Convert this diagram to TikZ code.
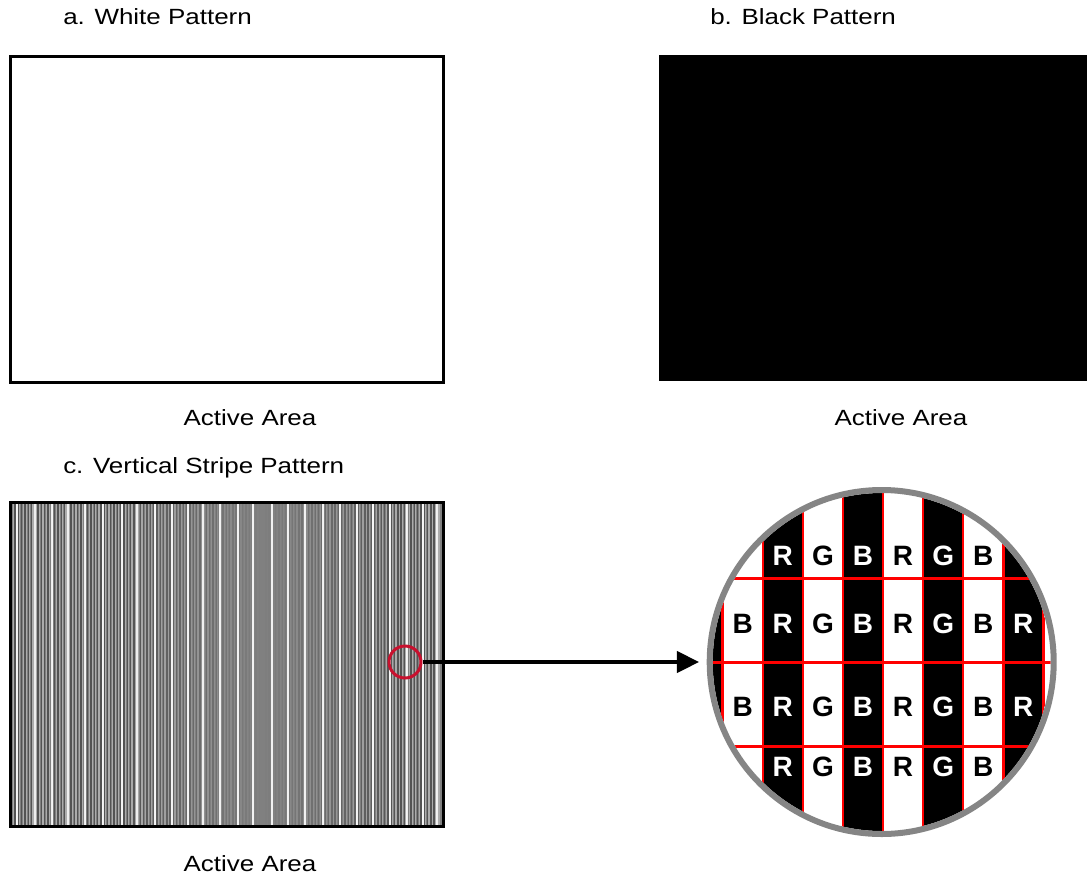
\documentclass[tikz,border=0pt]{standalone}
\usepackage{fontspec}
\usepackage{graphicx}
\usepackage{xcolor}
\usepackage{tikz}
\setmainfont{Liberation Sans}
\usetikzlibrary{arrows.meta}
\definecolor{spotred}{RGB}{200,16,46}
\definecolor{ringgray}{gray}{0.52}
\definecolor{stripegray}{gray}{0.5}
\newcommand{\wide}[1]{\scalebox{1.18}[1]{#1}}
\tikzset{
    caption/.style = {anchor=base west, inner sep=0pt, font=\fontsize{16.5}{20}\selectfont},
    areatext/.style = {anchor=base, inner sep=0pt, font=\fontsize{16.5}{20}\selectfont},
    panel/.style = {draw=black, line width=2.25pt},
    subpixel/.style = {inner sep=0pt, font=\fontsize{21}{24}\selectfont\bfseries},
    onblack/.style = {subpixel, text=white},
    onwhite/.style = {subpixel, text=black},
    gridline/.style = {red, line width=1.9pt},
    arrow/.style = {line width=2.4pt, -{Triangle[length=16.5pt, width=16pt]}, shorten >=5.8pt}
}

\begin{document}
\begin{tikzpicture}[x=0.75pt, y=-0.75pt]
\useasboundingbox (0,0) rectangle (1087,874);

\node (capa) [caption] at (63,25) {\wide{a. White Pattern}};
\node (capb) [caption] at (710,25) {\wide{b. Black Pattern}};
\draw [panel, fill=white] (10,57) rectangle (443,382);
\fill [black] (659,55) rectangle (1087,381);
\node (areaa) [areatext] at (250,425) {\wide{Active Area}};
\node (areab) [areatext] at (901,425) {\wide{Active Area}};

\node (capc) [caption] at (63,473) {\wide{c. Vertical Stripe Pattern}};
\fill [stripegray] (10,502) rectangle (443,826);
\foreach \x in {11,14.3,...,440} {
    \pgfmathsetmacro\depth{0.35*min(1,abs(\x-262)/140)}
    \fill [black, opacity=\depth] (\x,502) rectangle ++(1.4,324);
    \fill [white, opacity=\depth] (\x+1.65,502) rectangle ++(1.2,324);
}
\foreach \x in {17,35,52,68,85,103,122,137,155,172,188,203,220,238,253,272,288,305,323,340,357,373,390,407,423,437}
    \fill [white, opacity=0.9] (\x-0.7,502) rectangle ++(1.4,324);
\draw [panel] (10,502) rectangle (443,826);
\node (areac) [areatext] at (250,871) {\wide{Active Area}};

\begin{scope}
\clip (881.7,662) circle (169);
\fill [white] (700,480) rectangle (1070,850);
\foreach \k in {-1,1,3,5,7}
    \fill [black] ({722.7+40.08*\k},480) rectangle ({762.78+40.08*\k},850);
\foreach \ch [count=\k from 1] in {R,G,B,R,G,B} {
    \ifodd\k \node (top-\k) [onblack] at ({742.74+40.08*\k},555.5) {\ch};
    \else \node (top-\k) [onwhite] at ({742.74+40.08*\k},555.5) {\ch}; \fi
}
\foreach \ch [count=\k from 0] in {B,R,G,B,R,G,B,R} {
    \ifodd\k \node (mida-\k) [onblack] at ({742.74+40.08*\k},623.5) {\ch};
    \node (midb-\k) [onblack] at ({742.74+40.08*\k},707) {\ch};
    \else \node (mida-\k) [onwhite] at ({742.74+40.08*\k},623.5) {\ch};
    \node (midb-\k) [onwhite] at ({742.74+40.08*\k},707) {\ch}; \fi
}
\foreach \ch [count=\k from 1] in {R,G,B,R,G,B} {
    \ifodd\k \node (low-\k) [onblack] at ({742.74+40.08*\k},767) {\ch};
    \else \node (low-\k) [onwhite] at ({742.74+40.08*\k},767) {\ch}; \fi
}
\foreach \k in {0,...,8}
    \draw [gridline] ({722.7+40.08*\k},480) -- ++(0,380);
\foreach \y in {578.3,662.7,746.7}
    \draw [gridline] (700,\y) -- (1070,\y);
\end{scope}

\node (lens) [circle, draw=ringgray, line width=4.5pt, minimum size=258pt, inner sep=0pt] at (881.7,662) {};
\node (spot) [circle, draw=spotred, line width=2.25pt, minimum size=24pt, inner sep=0pt] at (405,662) {};
\draw [arrow] (spot) -- (lens);
\end{tikzpicture}
\end{document}
